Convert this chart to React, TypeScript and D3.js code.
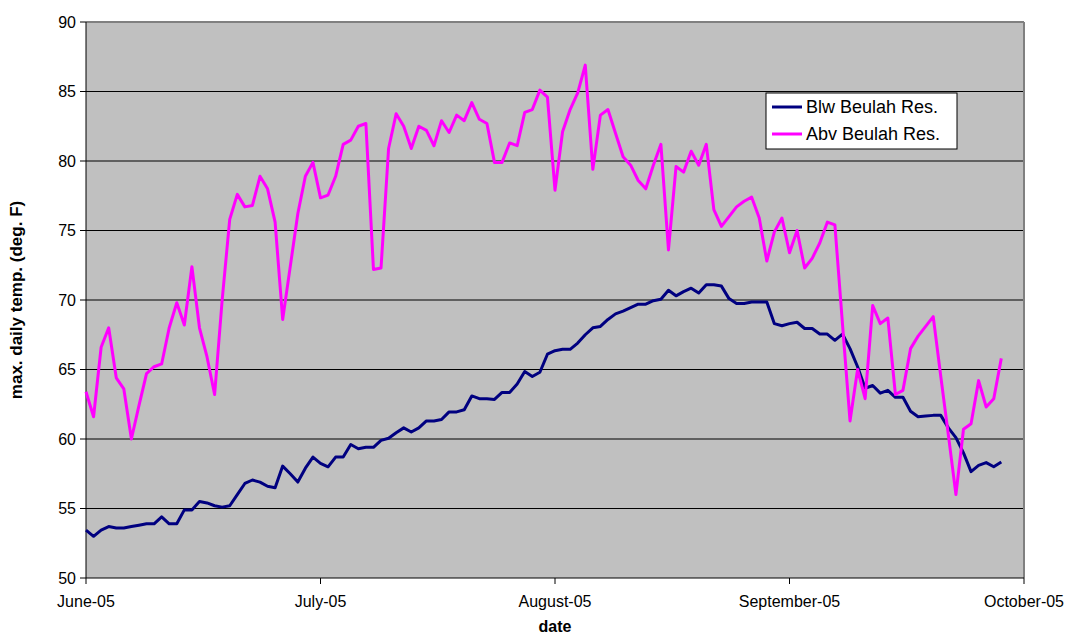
import React from "react";
import * as d3 from "d3";

const categoryLast = 124;
const monthLabels = ["June-05", "July-05", "August-05", "September-05", "October-05"];
const monthLabelIndex = [0, 31, 62, 93, 124];
const yTicks = [50, 55, 60, 65, 70, 75, 80, 85, 90];
const seriesNames = ["Blw Beulah Res.", "Abv Beulah Res."];
const seriesColors = ["#000080", "#FF00FF"];

const blw = [
  53.45, 53.0, 53.45, 53.7, 53.6, 53.6, 53.7, 53.8, 53.9, 53.9,
  54.4, 53.9, 53.9, 54.9, 54.9, 55.5, 55.4, 55.2, 55.1, 55.2,
  56.0, 56.8, 57.05, 56.9, 56.6, 56.5, 58.05, 57.5, 56.9, 57.9,
  58.7, 58.25, 58.0, 58.7, 58.7, 59.6, 59.3, 59.4, 59.4, 59.9,
  60.05, 60.45, 60.8, 60.5, 60.8, 61.3, 61.3, 61.4, 61.95, 61.95,
  62.1, 63.1, 62.9, 62.9, 62.85, 63.35, 63.35, 63.95, 64.85, 64.5,
  64.8, 66.1, 66.35, 66.45, 66.45, 66.9, 67.5, 68.0, 68.1, 68.6,
  69.0, 69.2, 69.45, 69.7, 69.7, 69.95, 70.05, 70.7, 70.3, 70.6,
  70.85, 70.5, 71.1, 71.1, 71.0, 70.1, 69.75, 69.75, 69.85, 69.85,
  69.85, 68.3, 68.15, 68.3, 68.4, 67.95, 67.95, 67.55, 67.55, 67.1,
  67.55, 66.5, 65.2, 63.65, 63.85, 63.3, 63.5, 63.0, 63.0, 62.0,
  61.6, 61.65, 61.7, 61.7, 60.8, 60.1, 59.0, 57.65, 58.1, 58.3,
  58.0, 58.35,
];

const abv = [
  63.4, 61.6, 66.6, 68.0, 64.4, 63.6, 60.0, 62.4, 64.7, 65.2,
  65.4, 68.0, 69.8, 68.2, 72.4, 68.0, 65.9, 63.2, 70.0, 75.8,
  77.6, 76.7, 76.8, 78.9, 78.0, 75.6, 68.6, 72.4, 76.2, 78.9,
  79.9, 77.35, 77.55, 78.9, 81.2, 81.5, 82.5, 82.7, 72.2, 72.3,
  80.9, 83.4, 82.5, 80.9, 82.5, 82.2, 81.1, 82.9, 82.05, 83.3,
  82.9, 84.2, 83.0, 82.7, 79.9, 79.9, 81.3, 81.1, 83.5, 83.7,
  85.1, 84.6, 77.9, 82.1, 83.7, 84.9, 86.9, 79.4, 83.3, 83.7,
  82.0, 80.3, 79.7, 78.6, 78.0, 79.7, 81.2, 73.6, 79.6, 79.2,
  80.7, 79.7, 81.2, 76.5, 75.3, 76.0, 76.7, 77.1, 77.4, 75.9,
  72.8, 74.9, 75.9, 73.4, 75.0, 72.3, 73.0, 74.1, 75.6, 75.4,
  68.3, 61.3, 65.0, 62.9, 69.6, 68.3, 68.7, 63.2, 63.5, 66.5,
  67.4, 68.1, 68.8, 64.5, 60.3, 56.0, 60.7, 61.1, 64.2, 62.3,
  62.9, 65.8,
];

const seriesData = [blw, abv];

export default function App() {
  const W = 1067;
  const H = 635;
  const left = 86, right = 1024, top = 22, bottom = 578;
  const x = d3.scaleLinear().domain([0, categoryLast]).range([left, right]);
  const y = d3.scaleLinear().domain([50, 90]).range([bottom, top]);
  const line = d3
    .line<number>()
    .x((_, i) => x(i))
    .y((d) => y(d));
  const font = "'Liberation Sans', Arial, sans-serif";

  return (
    <svg
      width={W}
      height={H}
      style={{ position: "absolute", left: 0, top: 0, background: "#fff" }}
      fontFamily={font}
    >
      <rect x={left} y={top} width={right - left} height={bottom - top} fill="#C0C0C0" />
      {yTicks
        .filter((v) => v > 50 && v < 90)
        .map((v) => (
          <line key={v} x1={left} x2={right} y1={y(v)} y2={y(v)} stroke="#000" strokeWidth={1} />
        ))}
      <line x1={left} x2={right} y1={top} y2={top} stroke="#808080" strokeWidth={2} />
      <line x1={right} x2={right} y1={top} y2={bottom} stroke="#808080" strokeWidth={2} />
      <line x1={left} x2={left} y1={top} y2={bottom} stroke="#000" strokeWidth={1} />
      <line x1={left} x2={right} y1={bottom} y2={bottom} stroke="#000" strokeWidth={1} />
      {yTicks.map((v) => (
        <g key={v}>
          <line x1={left - 6} x2={left} y1={y(v)} y2={y(v)} stroke="#000" />
          <text x={left - 10} y={y(v)} dy="0.35em" textAnchor="end" fontSize={16} fill="#000">
            {v}
          </text>
        </g>
      ))}
      {monthLabelIndex.map((ci, k) => (
        <g key={ci}>
          <line x1={x(ci)} x2={x(ci)} y1={bottom} y2={bottom + 6} stroke="#000" />
          <text x={x(ci)} y={607} textAnchor="middle" fontSize={16} fill="#000">
            {monthLabels[k]}
          </text>
        </g>
      ))}
      {seriesData.map((s, k) => (
        <path
          key={k}
          d={line(s) || ""}
          fill="none"
          stroke={seriesColors[k]}
          strokeWidth={3}
          strokeLinejoin="round"
        />
      ))}
      <text x={555} y={632} textAnchor="middle" fontSize={16} fontWeight="bold" fill="#000">
        date
      </text>
      <text
        transform={`translate(22,${(top + bottom) / 2}) rotate(-90)`}
        textAnchor="middle"
        fontSize={17}
        fontWeight="bold"
        fill="#000"
      >
        max. daily temp. (deg. F)
      </text>
      <g>
        <rect x={766} y={93} width={191} height={56} fill="#fff" stroke="#000" strokeWidth={1} />
        {seriesNames.map((n, k) => (
          <g key={n}>
            <line x1={772} x2={802} y1={107 + k * 27} y2={107 + k * 27} stroke={seriesColors[k]} strokeWidth={3} />
            <text x={806} y={107 + k * 27} dy="0.35em" fontSize={18} fill="#000">
              {n}
            </text>
          </g>
        ))}
      </g>
    </svg>
  );
}
